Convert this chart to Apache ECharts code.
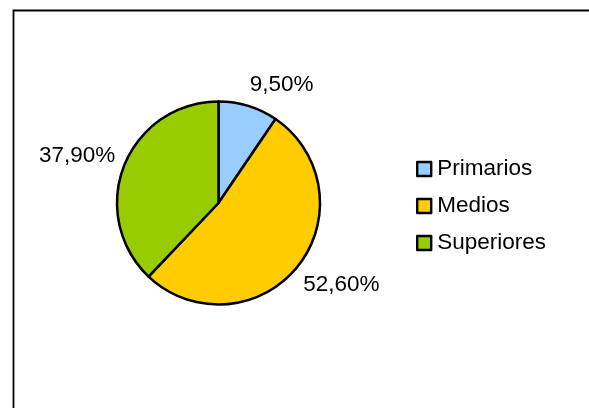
<!DOCTYPE html>
<html>
<head>
<meta charset="utf-8">
<script src="https://cdn.jsdelivr.net/npm/echarts@6/dist/echarts.min.js"></script>
<style>
html,body{margin:0;padding:0;background:#fff;}
#chart{width:589px;height:408px;}
</style>
</head>
<body>
<div id="chart"></div>
<script>
var categories = ['Primarios', 'Medios', 'Superiores'];
var values = [9.5, 52.6, 37.9];
var colors = ['#99CCFF', '#FFCC00', '#99CC00'];
var labelShift = [[-8, -7], [-11, 9], [10, -4]];

var chart = echarts.init(document.getElementById('chart'), null, {renderer: 'canvas'});
var FONT = '"Liberation Sans", Arial, sans-serif';

var option = {
  animation: false,
  backgroundColor: '#ffffff',
  graphic: [{
    type: 'rect',
    shape: {x: 13.5, y: 10.5, width: 620, height: 440},
    style: {fill: 'none', stroke: '#000', lineWidth: 1.8},
    silent: true
  }],
  legend: {
    orient: 'vertical',
    left: 411,
    top: 152.5,
    padding: 5,
    itemWidth: 14,
    itemHeight: 14,
    itemGap: 14,
    icon: 'rect',
    selectedMode: false,
    itemStyle: {borderColor: '#000', borderWidth: 2.4},
    textStyle: {fontFamily: FONT, fontSize: 22.5, color: '#000', lineHeight: 22, padding: [0, 0, 0, 1]},
    data: categories
  },
  series: [{
    type: 'pie',
    center: [218.5, 203],
    radius: 101.5,
    startAngle: 90,
    clockwise: true,
    avoidLabelOverlap: false,
    silent: true,
    itemStyle: {borderColor: '#000', borderWidth: 2.5},
    label: {
      show: true,
      position: 'outside',
      fontFamily: FONT,
      fontSize: 22.5,
      color: '#000',
      formatter: function (p) { return p.value.toFixed(2).replace('.', ',') + '%'; }
    },
    labelLine: {show: false, length: 15, length2: 0},
    labelLayout: function (p) {
      var s = labelShift[p.dataIndex];
      return {dx: s[0], dy: s[1]};
    },
    emphasis: {disabled: true},
    data: categories.map(function (c, i) {
      return {name: c, value: values[i], itemStyle: {color: colors[i]}};
    })
  }]
};
chart.setOption(option);
</script>
</body>
</html>
